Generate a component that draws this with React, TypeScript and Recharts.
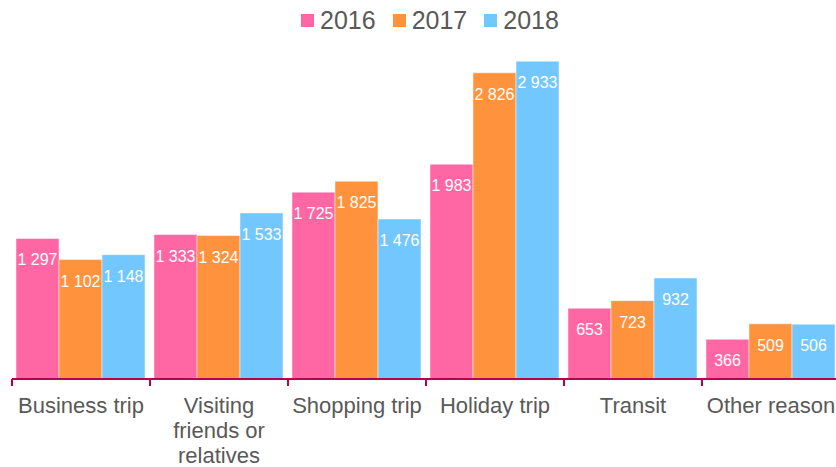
import { BarChart, Bar, XAxis, YAxis, LabelList } from 'recharts';

const categories = ['Business trip', 'Visiting friends or relatives', 'Shopping trip', 'Holiday trip', 'Transit', 'Other reason'];
const tickLines = [['Business trip'], ['Visiting', 'friends or', 'relatives'], ['Shopping trip'], ['Holiday trip'], ['Transit'], ['Other reason']];
const values2016 = [1297, 1333, 1725, 1983, 653, 366];
const values2017 = [1102, 1324, 1825, 2826, 723, 509];
const values2018 = [1148, 1533, 1476, 2933, 932, 506];
const years = ['2016', '2017', '2018'];
const colors = ['#FF67A4', '#FF923D', '#73C7FF'];

const CHART_W = 840;
const CHART_H = 467;
const AXIS_H = 30;
const MARGIN = { top: 54, right: 0, left: 12, bottom: 88 - AXIS_H };
const BAND = (CHART_W - MARGIN.left - MARGIN.right) / categories.length;
const AXIS_COLOR = '#B8004F';
const TEXT_COLOR = '#595959';

const data = categories.map((c, i) => ({
  name: c,
  y2016: values2016[i],
  y2017: values2017[i],
  y2018: values2018[i],
}));

const fmt = (v: number) => String(v).replace(/\B(?=(\d{3})+(?!\d))/g, ' ');

function CategoryTick(props: any) {
  const { x, y, payload, index } = props;
  const lines: string[] = tickLines[index] ?? [payload.value];
  const top = y - 8;
  return (
    <g>
      <line x1={x - BAND / 2} x2={x - BAND / 2} y1={top} y2={top + 7} stroke={AXIS_COLOR} strokeWidth={2} />
      {index === categories.length - 1 && (
        <line x1={x + BAND / 2} x2={x + BAND / 2} y1={top} y2={top + 7} stroke={AXIS_COLOR} strokeWidth={2} />
      )}
      <text x={x} y={top + 34} textAnchor="middle" fill={TEXT_COLOR} fontSize={22} fontFamily="'Liberation Sans', Arial, sans-serif">
        {lines.map((l, k) => (
          <tspan key={k} x={x} dy={k === 0 ? 0 : 25}>{l}</tspan>
        ))}
      </text>
    </g>
  );
}

function ValueLabel(props: any) {
  const { x, y, width, value } = props;
  return (
    <text x={x + width / 2} y={y + 27} textAnchor="middle" fill="#ffffff" fontSize={16} fontFamily="'Liberation Sans', Arial, sans-serif">
      {fmt(value)}
    </text>
  );
}

export default function App() {
  return (
    <div style={{ position: 'relative', width: 836, height: 467, overflow: 'hidden', background: '#fff' }}>
      <style>{'body{margin:0;overflow:hidden}'}</style>
      <div style={{ position: 'absolute', top: 0, left: 301, display: 'flex', alignItems: 'center', height: 40, fontFamily: "'Liberation Sans', Arial, sans-serif", fontSize: 25, color: TEXT_COLOR }}>
        {years.map((yr, i) => (
          <div key={yr} style={{ display: 'flex', alignItems: 'center', marginRight: 17 }}>
            <span style={{ display: 'inline-block', width: 13, height: 13, background: colors[i], marginRight: 6 }} />
            <span>{yr}</span>
          </div>
        ))}
      </div>
      <BarChart width={CHART_W} height={CHART_H} data={data} margin={MARGIN} barCategoryGap={4} barGap={0}>
        <XAxis
          dataKey="name"
          height={AXIS_H}
          axisLine={{ stroke: AXIS_COLOR, strokeWidth: 2 }}
          tickLine={false}
          interval={0}
          tick={<CategoryTick />}
        />
        <YAxis hide domain={[0, 3000]} />
        <Bar dataKey="y2016" name="2016" fill={colors[0]} stroke="rgba(255,255,255,0.45)" strokeWidth={1} isAnimationActive={false}>
          <LabelList dataKey="y2016" content={<ValueLabel />} />
        </Bar>
        <Bar dataKey="y2017" name="2017" fill={colors[1]} stroke="rgba(255,255,255,0.45)" strokeWidth={1} isAnimationActive={false}>
          <LabelList dataKey="y2017" content={<ValueLabel />} />
        </Bar>
        <Bar dataKey="y2018" name="2018" fill={colors[2]} stroke="rgba(255,255,255,0.45)" strokeWidth={1} isAnimationActive={false}>
          <LabelList dataKey="y2018" content={<ValueLabel />} />
        </Bar>
      </BarChart>
    </div>
  );
}
